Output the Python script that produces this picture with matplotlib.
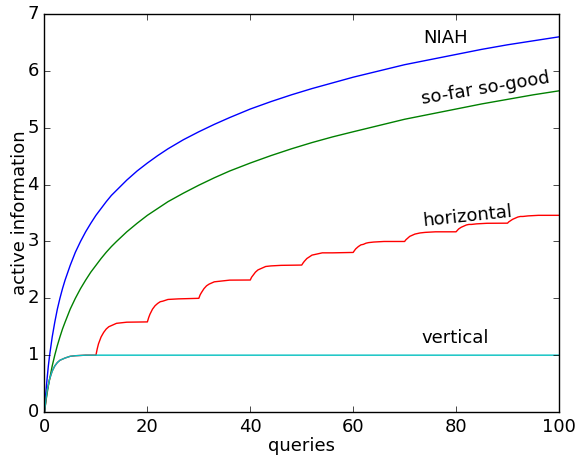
import matplotlib
matplotlib.use("Agg")
import matplotlib.pyplot as plt

plt.style.use('classic')
plt.rcParams['font.family'] = ['DejaVu Sans']
plt.rcParams['font.size'] = 13

# values
q_smooth = [0, 0.25, 0.5, 0.75, 1, 1.5, 2, 2.5, 3, 3.5, 4, 5, 6, 7, 8, 9, 10,
            11, 12, 13, 14, 16, 18, 20, 22, 24, 27, 30, 33, 36, 40, 44, 48, 52,
            56, 60, 65, 70, 75, 80, 85, 90, 95, 100]
niah = [0, 0.32, 0.58, 0.81, 1.0, 1.32, 1.58, 1.81, 2.0, 2.17, 2.32, 2.58,
        2.81, 3.0, 3.17, 3.32, 3.46, 3.58, 3.70, 3.81, 3.90, 4.08, 4.24, 4.38,
        4.51, 4.63, 4.79, 4.93, 5.06, 5.18, 5.33, 5.46, 5.58, 5.69, 5.79, 5.89,
        6.00, 6.11, 6.20, 6.29, 6.38, 6.46, 6.53, 6.60]
so_far = [0, 0.17, 0.32, 0.46, 0.58, 0.81, 1.0, 1.17, 1.32, 1.46, 1.58, 1.81,
          2.0, 2.17, 2.32, 2.46, 2.58, 2.70, 2.81, 2.91, 3.0, 3.17, 3.32, 3.46,
          3.58, 3.70, 3.85, 3.99, 4.12, 4.24, 4.38, 4.51, 4.63, 4.74, 4.84,
          4.93, 5.04, 5.15, 5.24, 5.33, 5.42, 5.50, 5.58, 5.65]

q_vert = [0, 0.25, 0.5, 1, 1.5, 2, 2.5, 3, 4, 5, 6, 7, 8, 10, 100]
vertical = [0, 0.2, 0.37, 0.58, 0.72, 0.81, 0.87, 0.91, 0.95, 0.98, 0.99,
            0.995, 1.0, 1.0, 1.0]

q_horiz = [0, 0.5, 1, 1.5, 2, 2.5, 3, 4, 5, 6, 7, 8,
           10, 10.25, 10.5, 11, 11.5, 12, 12.5, 13, 14, 16,
           20, 20.25, 20.5, 21, 21.5, 22, 22.5, 23, 24, 26,
           30, 30.25, 30.5, 31, 31.5, 32, 32.5, 33, 34, 36,
           40, 40.25, 40.5, 41, 41.5, 42, 42.5, 43, 44, 46,
           50, 50.25, 50.5, 51, 51.5, 52, 52.5, 53, 54, 56,
           60, 60.25, 60.5, 61, 61.5, 62, 62.5, 63, 64, 66,
           70, 70.25, 70.5, 71, 71.5, 72, 72.5, 73, 74, 76,
           80, 80.25, 80.5, 81, 81.5, 82, 82.5, 83, 84, 86,
           90, 90.25, 90.5, 91, 91.5, 92, 92.5, 93, 94, 96, 100]
horizontal = [0, 0.37, 0.58, 0.72, 0.81, 0.87, 0.91, 0.95, 0.98, 0.99, 0.995, 1.0,
              1.0, 1.11, 1.20, 1.32, 1.40, 1.46, 1.50, 1.52, 1.56, 1.58,
              1.585, 1.66, 1.72, 1.81, 1.87, 1.91, 1.94, 1.95, 1.98, 1.99,
              2.0, 2.06, 2.10, 2.17, 2.22, 2.25, 2.27, 2.29, 2.30, 2.32,
              2.322, 2.37, 2.40, 2.46, 2.50, 2.52, 2.54, 2.56, 2.57, 2.58,
              2.585, 2.62, 2.65, 2.70, 2.73, 2.76, 2.77, 2.78, 2.80, 2.80,
              2.807, 2.84, 2.87, 2.91, 2.94, 2.95, 2.97, 2.98, 2.99, 3.0,
              3.0, 3.03, 3.05, 3.09, 3.11, 3.13, 3.14, 3.15, 3.16, 3.17,
              3.17, 3.195, 3.22, 3.25, 3.27, 3.29, 3.30, 3.30, 3.31, 3.32,
              3.322, 3.345, 3.36, 3.39, 3.41, 3.43, 3.44, 3.44, 3.45, 3.46, 3.46]

fig = plt.figure(figsize=(5.8, 4.55), dpi=100, facecolor='white')
ax = fig.add_axes([0.0767, 0.0945, 0.887, 0.8745])

ax.plot(q_smooth, niah, color='b', lw=1.0)
ax.plot(q_smooth, so_far, color='g', lw=1.0)
ax.plot(q_horiz, horizontal, color='r', lw=1.0)
ax.plot(q_vert, vertical, color='c', lw=1.0)

ax.text(78, 6.58, 'NIAH', ha='center', va='center')
ax.text(85.7, 5.7, 'so-far so-good', ha='center', va='center', rotation=9.5)
ax.text(82.2, 3.45, 'horizontal', ha='center', va='center', rotation=6)
ax.text(79.9, 1.3, 'vertical', ha='center', va='center')

ax.set_xlim(0, 100)
ax.set_ylim(0, 7)
ax.set_xticks([0, 20, 40, 60, 80, 100])
ax.set_yticks(range(8))
ax.set_xlabel('queries', labelpad=1)
ax.set_ylabel('active information', labelpad=-1)

fig.savefig('out.png', dpi=100, facecolor='white')
